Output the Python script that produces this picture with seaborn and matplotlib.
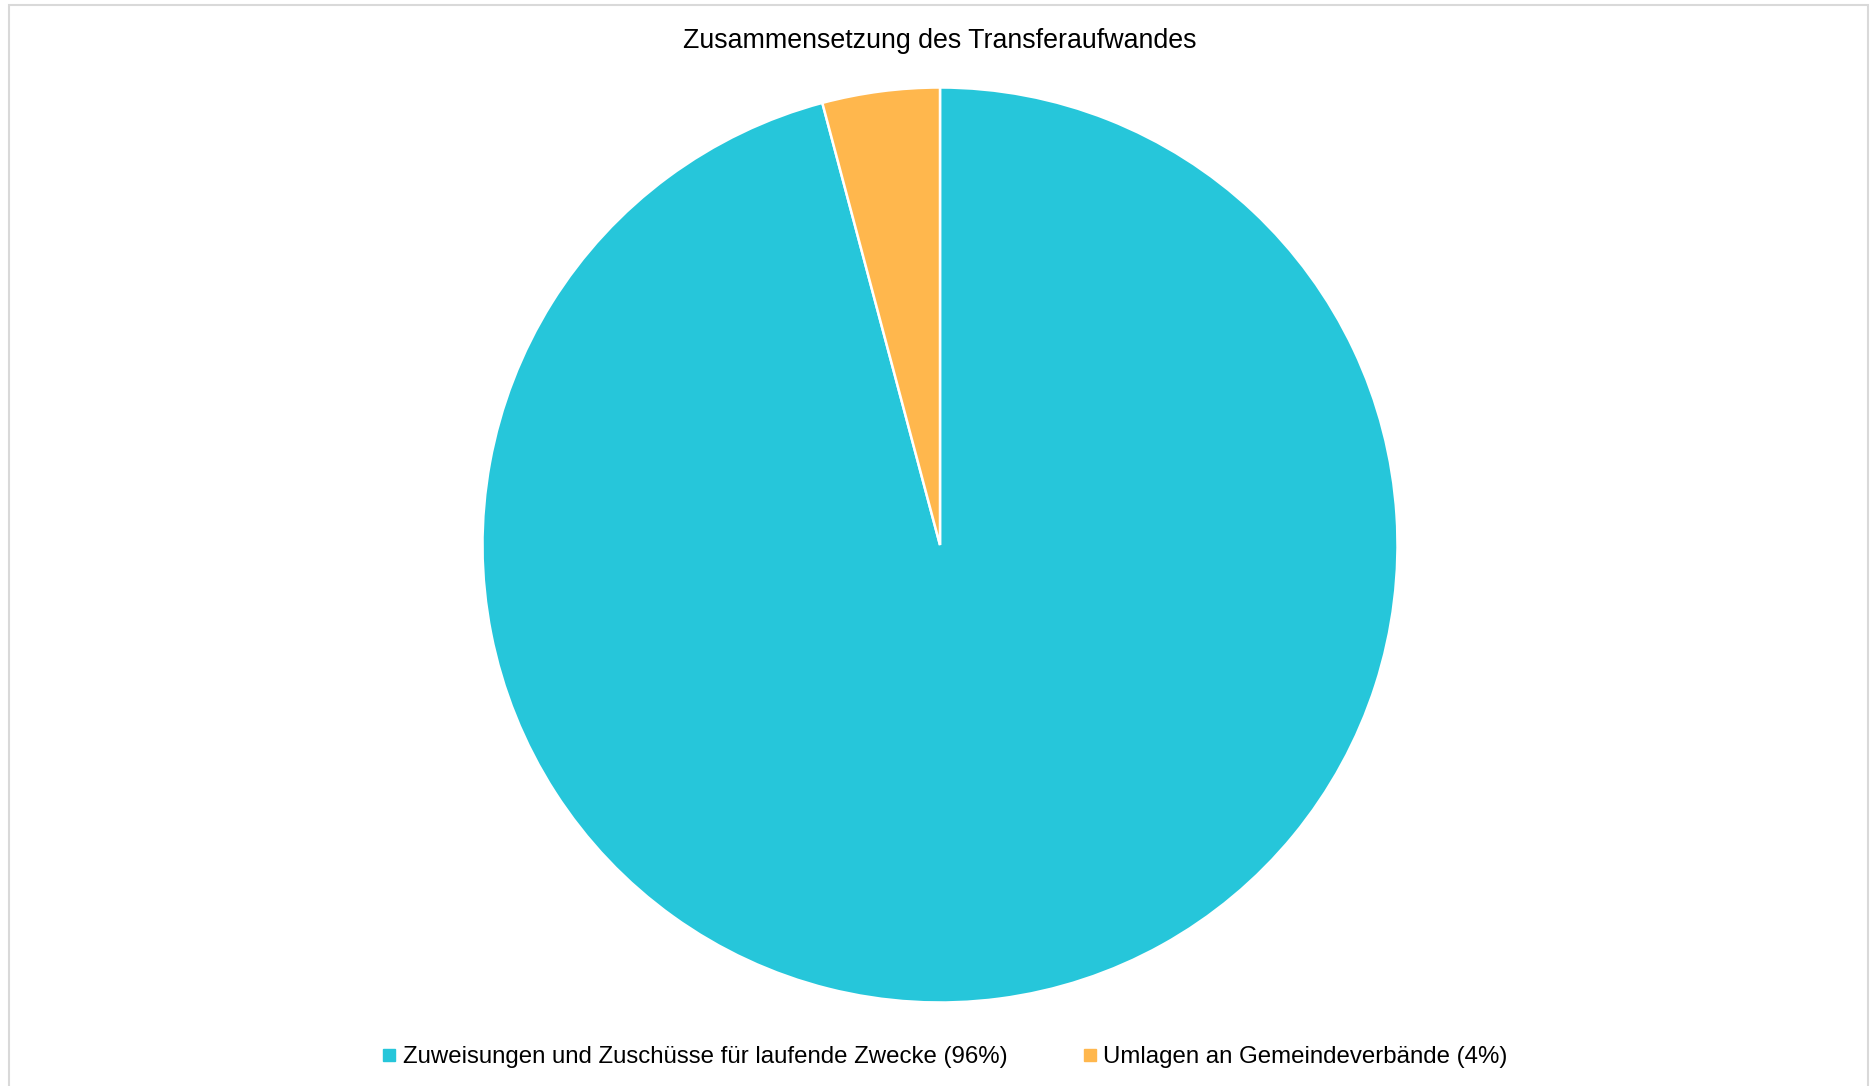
import matplotlib
matplotlib.use("Agg")
import matplotlib.pyplot as plt
from matplotlib.patches import Rectangle
from matplotlib.lines import Line2D
import seaborn as sns

# Composition of transfer expenses (share in percent)
categories = [
    "Zuweisungen und Zuschüsse für laufende Zwecke",
    "Umlagen an Gemeindeverbände",
]
shares = [95.86, 4.14]
share_labels = ["96%", "4%"]
colors = ["#26C6DA", "#FFB74D"]
title = "Zusammensetzung des Transferaufwandes"

sns.set_theme(style="white")
plt.rcParams["font.family"] = ["Liberation Sans", "DejaVu Sans"]

W, H = 1870, 1086
fig = plt.figure(figsize=(W / 100, H / 100), dpi=100)
fig.patch.set_facecolor("white")

# light frame around the chart area
fig.add_artist(Rectangle((9 / W, -0.01), (1868 - 9) / W, 1.01 - 5 / H,
                         transform=fig.transFigure, fill=False,
                         edgecolor="#d9d9d9", linewidth=1.5))

# pie axes: centre (940, 545) px, radius 457 px
r = 457.5
cx, cy = 940, 545
ax = fig.add_axes([(cx - r) / W, (H - cy - r) / H, 2 * r / W, 2 * r / H])
wedges, _ = ax.pie(shares, colors=colors, startangle=90, counterclock=False,
                   wedgeprops=dict(edgecolor="white", linewidth=1.8))
ax.set_xlim(-1, 1)
ax.set_ylim(-1, 1)
ax.set_aspect("equal")
ax.axis("off")

fig.text(cx / W, 1 - 41 / H, title, ha="center", va="center",
         fontsize=19.3, color="#000000")

handles = [Line2D([0], [0], marker="s", linestyle="none", markersize=8,
                  markerfacecolor=c, markeredgecolor=c) for c in colors]
labels = [f"{c} ({p})" for c, p in zip(categories, share_labels)]
leg = fig.legend(handles, labels, loc="center",
                 bbox_to_anchor=(945 / W, 1 - 1057 / H),
                 ncol=2, frameon=False, fontsize=17.3, handlelength=0.55,
                 handletextpad=0.3, columnspacing=3.15)
for t in leg.get_texts():
    t.set_color("#000000")

fig.savefig("out.png", dpi=100, facecolor="white")
